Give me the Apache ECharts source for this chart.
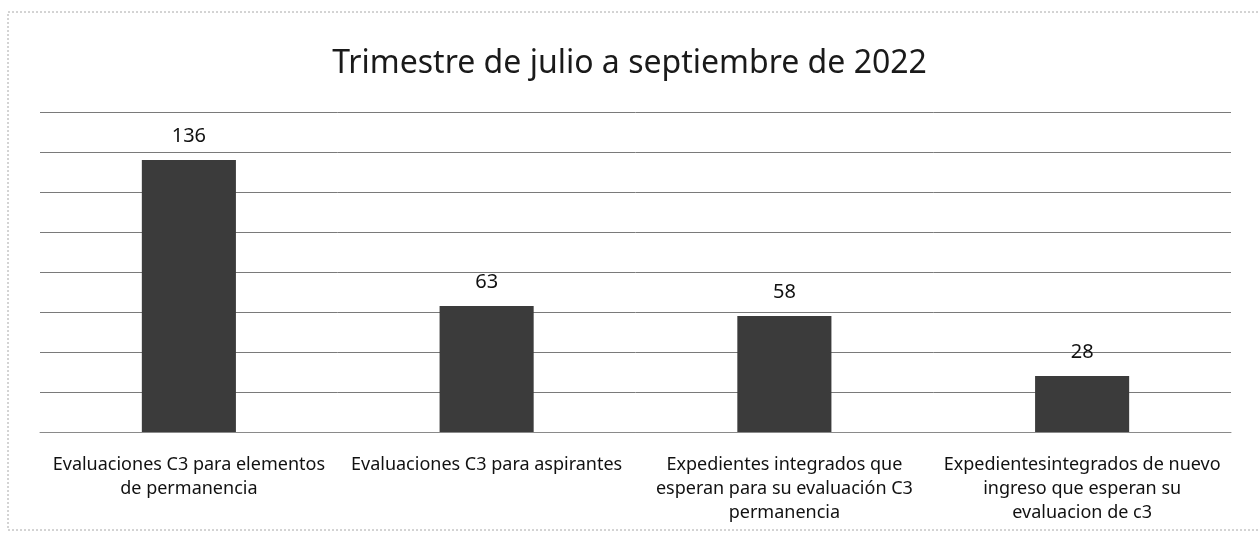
<!DOCTYPE html>
<html>
<head>
<meta charset="utf-8">
<style>
  html, body { margin: 0; padding: 0; background: #fff; }
  #chart { width: 1259px; height: 537px; }
</style>
<script src="https://cdn.jsdelivr.net/npm/echarts@6/dist/echarts.min.js"></script>
</head>
<body>
<div id="chart"></div>
<script>
// Quarterly C3 evaluation counts
const titleText = 'Trimestre de julio a septiembre de 2022';
const categories = [
  'Evaluaciones C3 para elementos\nde permanencia',
  'Evaluaciones C3 para aspirantes',
  'Expedientes integrados que\nesperan para su evaluación C3\npermanencia',
  'Expedientesintegrados de nuevo\ningreso que esperan su\nevaluacion de c3'
];
const values = [136, 63, 58, 28];
const axisMin = 0;
const axisMax = 160;
const axisStep = 20;

const font = 'Noto Sans';
const chart = echarts.init(document.getElementById('chart'));

chart.setOption({
  backgroundColor: '#ffffff',
  animation: false,
  title: {
    text: titleText,
    left: 'center',
    top: 43,
    textStyle: { fontFamily: font, fontSize: 32, fontWeight: 'normal', color: '#1a1a1a' }
  },
  graphic: [{
    type: 'rect',
    shape: { x: 8, y: 12, width: 1260, height: 518 },
    style: { fill: 'none', stroke: '#a8a8a8', lineWidth: 1, lineDash: [2, 2] },
    silent: true
  }],
  grid: { left: 40, right: 28, top: 112, bottom: 105 },
  xAxis: {
    type: 'category',
    data: categories,
    axisTick: { show: false },
    axisLine: { show: true, lineStyle: { color: '#8a8a8a', width: 1 } },
    axisLabel: {
      interval: 0,
      margin: 21,
      fontFamily: font,
      fontSize: 18,
      lineHeight: 24,
      color: '#111'
    }
  },
  yAxis: {
    type: 'value',
    min: axisMin,
    max: axisMax,
    interval: axisStep,
    axisLabel: { show: false },
    axisLine: { show: false },
    axisTick: { show: false },
    splitLine: { lineStyle: { color: '#7a7a7a', width: 1 } }
  },
  series: [{
    type: 'bar',
    data: values,
    barWidth: '31.6%',
    itemStyle: { color: '#3b3b3b' },
    label: {
      show: true,
      position: 'top',
      distance: 14,
      fontFamily: font,
      fontSize: 20,
      color: '#111'
    }
  }]
});
</script>
</body>
</html>
